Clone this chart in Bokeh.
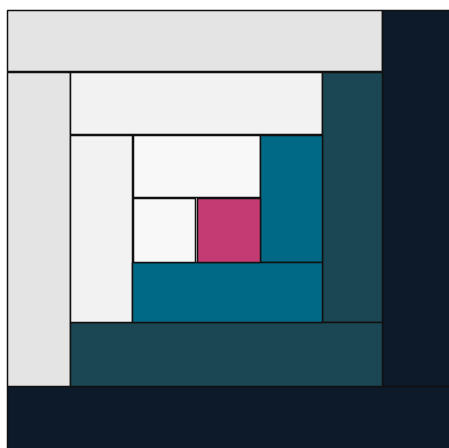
from bokeh.plotting import figure
from bokeh.models import ColumnDataSource, Range1d
from bokeh.embed import file_html
from bokeh.resources import INLINE

# Blocks of the spiral (treemap-like log cabin), edges in chart units
names = ["top_bar", "right_navy", "bottom_navy", "left_gray", "inner_top",
         "right_dark_teal", "bottom_dark_teal", "left_light", "white_top",
         "teal_right", "teal_bottom", "white_small", "pink"]
x0 = [7, 382, 7, 7, 70, 322, 70, 70, 133, 260, 132, 133, 197]
x1 = [382, 452, 452, 70, 322, 382, 382, 132, 260, 322, 322, 195, 260]
y0 = [10, 10, 386, 72, 72, 72, 322, 135, 135, 135, 262, 198, 198]
y1 = [71, 386, 451, 386, 134, 322, 386, 322, 197, 262, 322, 262, 262]
colors = ["#e4e4e4", "#0c1a2a", "#0c1a2a", "#e4e4e4", "#f2f2f2",
          "#1b4654", "#1b4654", "#f2f2f2", "#f8f8f8",
          "#006a86", "#006a86", "#f8f8f8", "#c43b73"]

src = ColumnDataSource(dict(name=names, left=x0, right=x1, top=y0, bottom=y1, color=colors))

p = figure(width=449, height=448, output_backend="svg", toolbar_location=None,
           x_range=Range1d(0, 449), y_range=Range1d(448, 0),
           min_border=0, outline_line_color=None)
p.axis.visible = False
p.grid.visible = False
p.background_fill_color = "white"

p.quad(left="left", right="right", top="top", bottom="bottom", source=src,
       fill_color="color", line_color="#111111", line_width=1.5)

open("out.html", "w").write(file_html(p, INLINE))
